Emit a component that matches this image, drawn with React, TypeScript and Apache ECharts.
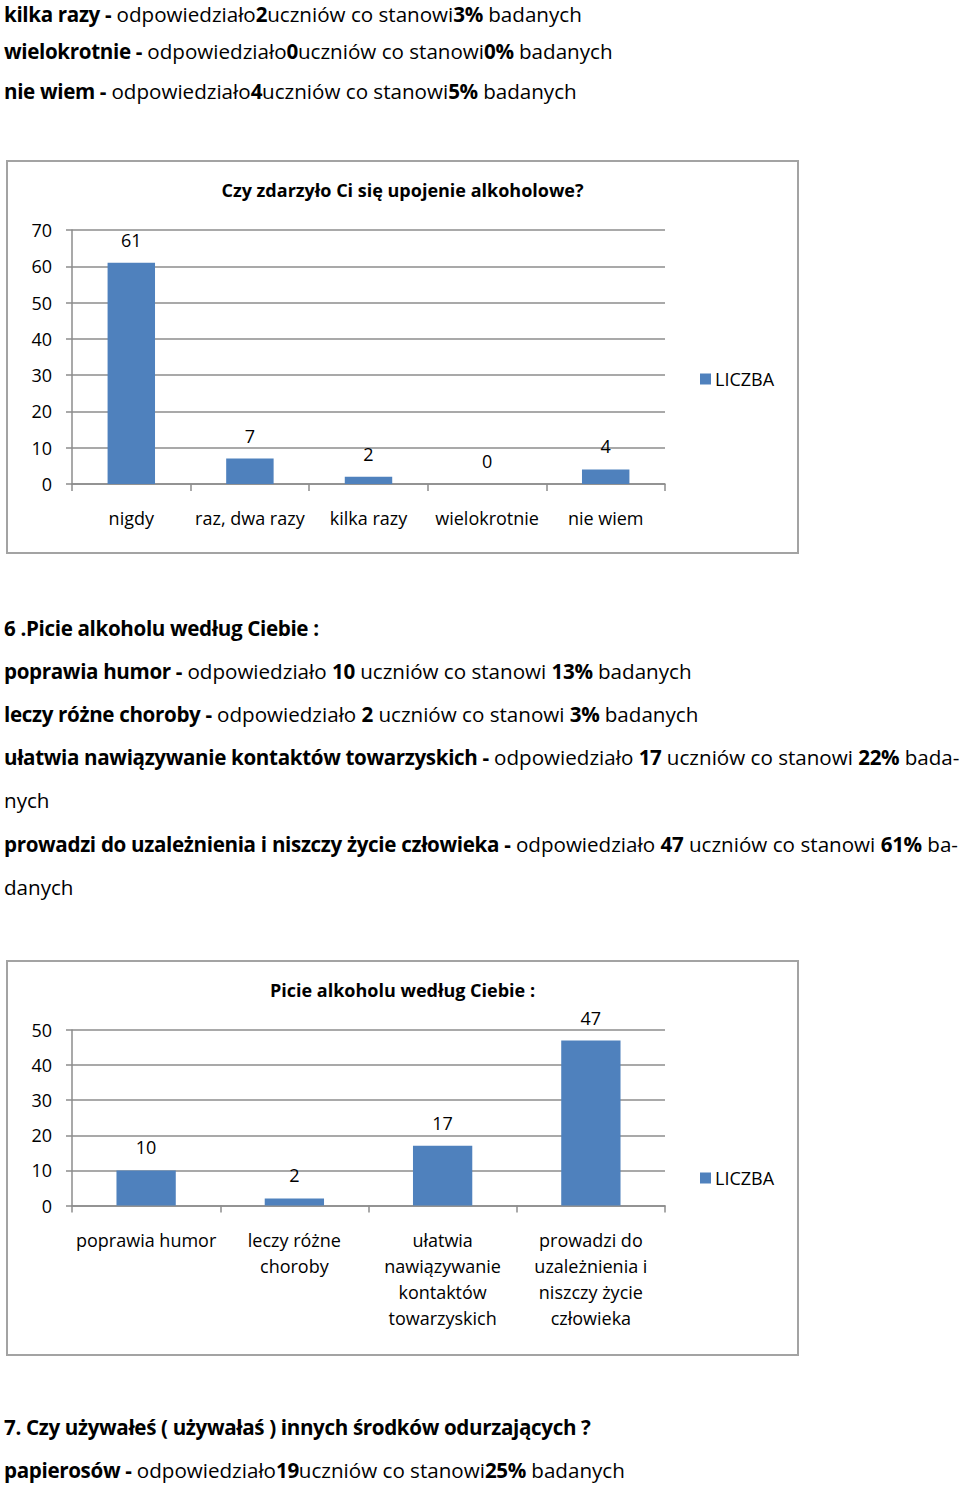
import React, { useEffect, useRef } from "react";
import * as echarts from "echarts";

const FONT = "'Open Sans', 'Noto Sans', sans-serif";

// Chart 1 data
const cat1 = ["nigdy", "raz, dwa razy", "kilka razy", "wielokrotnie", "nie wiem"];
const val1 = [61, 7, 2, 0, 4];
const title1 = "Czy zdarzyło Ci się upojenie alkoholowe?";
const yMax1 = 70;

// Chart 2 data
const cat2 = [
  "poprawia humor",
  "leczy różne\nchoroby",
  "ułatwia\nnawiązywanie\nkontaktów\ntowarzyskich",
  "prowadzi do\nuzależnienia i\nniszczy życie\nczłowieka",
];
const val2 = [10, 2, 17, 47];
const title2 = "Picie alkoholu według Ciebie :";
const yMax2 = 50;

const seriesName = "LICZBA";
const BAR = "#4f81bd";
const GRID = "#8c8c8c";

function makeOption(cats: string[], vals: number[], title: string, yMax: number, gridH: number, legendTop: number, w: number, h: number) {
  return {
    animation: false,
    title: {
      text: title,
      left: "center",
      top: 17,
      padding: 0,
      textStyle: { fontFamily: FONT, fontSize: 18, fontWeight: "bold", color: "#000", lineHeight: 26 },
    },
    graphic: [
      {
        type: "rect",
        shape: { x: 1, y: 1, width: w - 2, height: h - 2 },
        style: { fill: "none", stroke: "#a3a3a3", lineWidth: 2 },
        silent: true,
      },
    ],
    legend: {
      left: 694,
      top: legendTop,
      itemWidth: 11,
      itemHeight: 11,
      icon: "rect",
      itemGap: 5,
      padding: 0,
      data: [seriesName],
      textStyle: { fontFamily: FONT, fontSize: 18, color: "#000", padding: [0, 0, 0, -1] },
    },
    grid: { left: 66, top: 70, width: 593, height: gridH },
    xAxis: {
      type: "category",
      data: cats,
      axisLine: { lineStyle: { color: GRID, width: 1.5 } },
      axisTick: { show: true, length: 7, lineStyle: { color: GRID, width: 1.5 } },
      axisLabel: {
        fontFamily: FONT,
        fontSize: 18,
        color: "#000",
        margin: 21,
        lineHeight: 26,
        interval: 0,
      },
    },
    yAxis: {
      type: "value",
      min: 0,
      max: yMax,
      interval: 10,
      axisLine: { show: true, lineStyle: { color: GRID, width: 1.5 } },
      axisTick: { show: true, length: 6, lineStyle: { color: GRID, width: 1.5 } },
      splitLine: { lineStyle: { color: GRID, width: 1.5 } },
      axisLabel: { fontFamily: FONT, fontSize: 18, color: "#000", margin: 20 },
    },
    series: [
      {
        name: seriesName,
        type: "bar",
        data: vals,
        barWidth: "40%",
        itemStyle: { color: BAR },
        label: {
          show: true,
          position: "top",
          distance: 14,
          fontFamily: FONT,
          fontSize: 18,
          color: "#000",
        },
      },
    ],
  };
}

function Chart(props: { left: number; top: number; width: number; height: number; option: any }) {
  const ref = useRef<HTMLDivElement>(null);
  useEffect(() => {
    if (!ref.current) return;
    const chart = echarts.init(ref.current, null, { renderer: "svg" });
    chart.setOption(props.option);
    return () => chart.dispose();
  }, []);
  return (
    <div
      ref={ref}
      style={{ position: "absolute", left: props.left, top: props.top, width: props.width, height: props.height }}
    />
  );
}

const B = (p: { children: any }) => <b style={{ fontWeight: 700, letterSpacing: "-0.35px" }}>{p.children}</b>;

function Line(props: { y: number; children: any; justify?: boolean; lh?: number }) {
  const lh = props.lh || 28;
  return (
    <div
      style={{
        position: "absolute",
        left: 4,
        top: props.y - lh / 2,
        width: props.justify ? 954 : 950,
        height: lh,
        lineHeight: lh + "px",
        fontSize: 20.6,
        fontFamily: FONT,
        color: "#000",
        whiteSpace: "nowrap",
        textAlign: props.justify ? "justify" : "left",
        textAlignLast: props.justify ? "justify" : "left",
      } as any}
    >
      {props.children}
    </div>
  );
}

export default function App() {
  const opt1 = makeOption(cat1, val1, title1, yMax1, 254, 210, 793, 394);
  const opt2 = makeOption(cat2, val2, title2, yMax2, 175.5, 209, 793, 396);
  return (
    <div style={{ position: "absolute", left: 0, top: 0, width: 960, height: 1486, background: "#fff", overflow: "hidden" }}>
      <Line y={14}>
        <B>kilka razy -</B> odpowiedziało<B>2</B>uczniów co stanowi<B>3%</B> badanych
      </Line>
      <Line y={51}>
        <B>wielokrotnie -</B> odpowiedziało<B>0</B>uczniów co stanowi<B>0%</B> badanych
      </Line>
      <Line y={91}>
        <B>nie wiem -</B> odpowiedziało<B>4</B>uczniów co stanowi<B>5%</B> badanych
      </Line>

      <Chart left={6} top={160} width={793} height={394} option={opt1} />

      <Line y={628}>
        <B>6 .Picie alkoholu według Ciebie :</B>
      </Line>
      <Line y={671}>
        <B>poprawia humor -</B> odpowiedziało <B>10</B> uczniów co stanowi <B>13%</B> badanych
      </Line>
      <Line y={714}>
        <B>leczy różne choroby -</B> odpowiedziało <B>2</B> uczniów co stanowi <B>3%</B> badanych
      </Line>
      <Line y={757} justify>
        <B>ułatwia nawiązywanie kontaktów towarzyskich -</B> odpowiedziało <B>17</B> uczniów co stanowi <B>22%</B> bada-
      </Line>
      <Line y={800}>nych</Line>
      <Line y={844} justify>
        <B>prowadzi do uzależnienia i niszczy życie człowieka -</B> odpowiedziało <B>47</B> uczniów co stanowi <B>61%</B> ba-
      </Line>
      <Line y={887}>danych</Line>

      <Chart left={6} top={960} width={793} height={396} option={opt2} />

      <Line y={1427}>
        <B>7. Czy używałeś ( używałaś ) innych środków odurzających ?</B>
      </Line>
      <Line y={1470}>
        <B>papierosów -</B> odpowiedziało<B>19</B>uczniów co stanowi<B>25%</B> badanych
      </Line>
    </div>
  );
}
